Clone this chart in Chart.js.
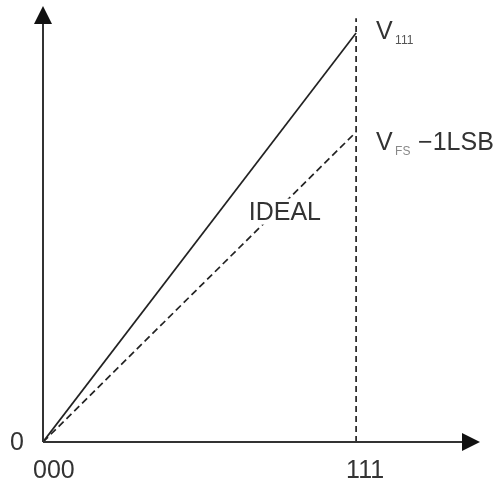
<!DOCTYPE html>
<html>
<head>
<meta charset="utf-8">
<script src="https://cdn.jsdelivr.net/npm/chart.js@4"></script>
<style>
  html, body { margin: 0; padding: 0; background: #fff; }
  #wrap { width: 504px; height: 484px; }
</style>
</head>
<body>
<div id="wrap"><canvas id="chart" width="504" height="484"></canvas></div>
<script>
// codes on the x axis (000 .. 111 -> 0 .. 7)
const codes = ['000', '111'];
const codeValues = [0, 7];
// output voltage at each end, in LSB
const actualOutput = [0, 9.38];   // V111
const idealOutput = [0, 7.11];    // VFS - 1LSB
const yZeroLabel = '0';
const fullScaleTop = 9.72;        // top of the dashed marker at code 111
const xMax = 9.77;
const yMax = 10;

const ink = '#222';
const textInk = '#333';
const font = '"Liberation Sans", Arial, sans-serif';

// axes with arrows + labels, drawn from the chart scales
const diagramPlugin = {
  id: 'diagram',
  afterDatasetsDraw(chart) {
    const { ctx } = chart;
    const xs = chart.scales.x;
    const ys = chart.scales.y;
    const x0 = xs.getPixelForValue(0);
    const y0 = ys.getPixelForValue(0);
    const xEnd = xs.getPixelForValue(xMax);
    const yEnd = ys.getPixelForValue(yMax);

    ctx.save();
    ctx.strokeStyle = '#333';
    ctx.fillStyle = '#111';
    ctx.lineWidth = 2;

    // x axis
    ctx.beginPath();
    ctx.moveTo(x0, y0);
    ctx.lineTo(xEnd - 16, y0);
    ctx.stroke();
    ctx.beginPath();
    ctx.moveTo(xEnd, y0);
    ctx.lineTo(xEnd - 18, y0 - 9);
    ctx.lineTo(xEnd - 18, y0 + 9);
    ctx.closePath();
    ctx.fill();

    // y axis
    ctx.beginPath();
    ctx.moveTo(x0, y0);
    ctx.lineTo(x0, yEnd + 16);
    ctx.stroke();
    ctx.beginPath();
    ctx.moveTo(x0, yEnd);
    ctx.lineTo(x0 - 9, yEnd + 18);
    ctx.lineTo(x0 + 9, yEnd + 18);
    ctx.closePath();
    ctx.fill();

    // text
    ctx.fillStyle = textInk;
    ctx.textBaseline = 'alphabetic';
    ctx.textAlign = 'left';
    ctx.font = '25px ' + font;

    ctx.fillText(yZeroLabel, x0 - 33, y0 + 8);
    codes.forEach((c, i) => {
      const px = xs.getPixelForValue(codeValues[i]);
      ctx.fillText(c, px - 10, y0 + 36);
    });

    const xr = xs.getPixelForValue(codeValues[1]);
    const yA = ys.getPixelForValue(actualOutput[1]);
    const yI = ys.getPixelForValue(idealOutput[1]);

    // V111
    ctx.fillText('V', xr + 20, yA + 6);
    ctx.font = '12px ' + font;
    ctx.fillStyle = '#555';
    ctx.fillText('111', xr + 39, yA + 11);

    // VFS -1LSB
    ctx.font = '25px ' + font;
    ctx.fillStyle = textInk;
    ctx.fillText('V', xr + 20, yI + 18);
    ctx.font = '12px ' + font;
    ctx.fillStyle = '#888';
    ctx.fillText('FS', xr + 39, yI + 23);
    ctx.font = '25px ' + font;
    ctx.fillStyle = textInk;
    ctx.fillText('\u22121LSB', xr + 62, yI + 18);

    // IDEAL label sits on the ideal line, with a white knock-out behind it
    const xMid = xs.getPixelForValue(4.6);
    const yMid = ys.getPixelForValue(5.1);
    const w = ctx.measureText('IDEAL').width;
    ctx.fillStyle = '#fff';
    ctx.fillRect(xMid - 3, yMid - 21, w + 6, 26);
    ctx.fillStyle = textInk;
    ctx.fillText('IDEAL', xMid, yMid);

    ctx.restore();
  }
};

new Chart(document.getElementById('chart'), {
  type: 'scatter',
  data: {
    datasets: [
      {
        label: 'actual',
        data: codeValues.map((x, i) => ({ x, y: actualOutput[i] })),
        showLine: true,
        borderColor: ink,
        borderWidth: 1.7,
        pointRadius: 0,
      },
      {
        label: 'ideal',
        data: codeValues.map((x, i) => ({ x, y: idealOutput[i] })),
        showLine: true,
        borderColor: ink,
        borderWidth: 1.7,
        borderDash: [7, 4],
        pointRadius: 0,
      },
      {
        label: 'full scale',
        data: [{ x: codeValues[1], y: 0 }, { x: codeValues[1], y: fullScaleTop }],
        showLine: true,
        borderColor: ink,
        borderWidth: 1.7,
        borderDash: [6, 4],
        pointRadius: 0,
      },
    ],
  },
  options: {
    responsive: false,
    animation: false,
    layout: { padding: { left: 43, right: 24, top: 6, bottom: 42 } },
    plugins: {
      legend: { display: false },
      tooltip: { enabled: false },
    },
    scales: {
      x: { type: 'linear', min: 0, max: xMax, display: false },
      y: { type: 'linear', min: 0, max: yMax, display: false },
    },
  },
  plugins: [diagramPlugin],
});
</script>
</body>
</html>
